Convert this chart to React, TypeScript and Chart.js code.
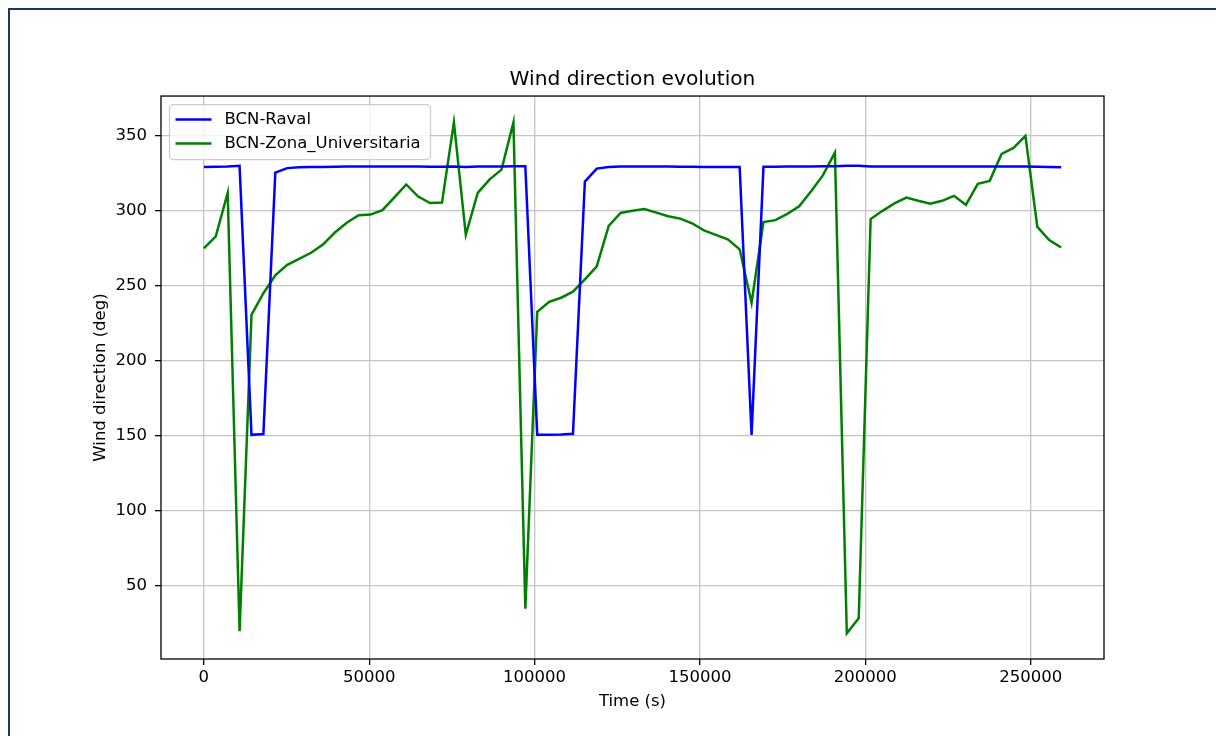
import React, { useEffect, useRef } from "react";
import { Chart, registerables } from "chart.js";

Chart.register(...registerables);

const timeSeconds = [
  0, 3600, 7200, 10800, 14400, 18000, 21600, 25200, 28800, 32400, 36000, 39600,
  43200, 46800, 50400, 54000, 57600, 61200, 64800, 68400, 72000, 75600, 79200, 82800,
  86400, 90000, 93600, 97200, 100800, 104400, 108000, 111600, 115200, 118800, 122400, 126000,
  129600, 133200, 136800, 140400, 144000, 147600, 151200, 154800, 158400, 162000, 165600, 169200,
  172800, 176400, 180000, 183600, 187200, 190800, 194400, 198000, 201600, 205200, 208800, 212400,
  216000, 219600, 223200, 226800, 230400, 234000, 237600, 241200, 244800, 248400, 252000, 255600,
  259200,
];

const ravalDeg = [
  329.2, 329.4, 329.6, 330.0, 150.5, 151.0, 325.5, 328.5, 329.0, 329.2, 329.3, 329.4,
  329.5, 329.5, 329.5, 329.5, 329.5, 329.5, 329.5, 329.4, 329.4, 329.5, 329.3, 329.5,
  329.6, 329.6, 329.7, 329.8, 150.5, 150.6, 150.8, 151.2, 319.5, 328.2, 329.3, 329.5,
  329.5, 329.5, 329.5, 329.5, 329.4, 329.4, 329.3, 329.3, 329.2, 329.2, 150.5, 329.4,
  329.4, 329.5, 329.5, 329.6, 329.7, 329.8, 330.0, 330.0, 329.6, 329.5, 329.5, 329.5,
  329.5, 329.5, 329.5, 329.5, 329.5, 329.5, 329.5, 329.6, 329.6, 329.6, 329.4, 329.2,
  329.0,
];

const zonaUniversitariaDeg = [
  275.0, 283.0, 312.0, 19.5, 230.5, 245.0, 257.0, 264.0, 268.0, 272.0, 277.5, 285.5,
  292.0, 297.0, 297.5, 300.5, 309.0, 317.6, 309.5, 305.2, 305.5, 359.0, 284.0, 312.0,
  321.0, 327.5, 359.0, 34.5, 232.6, 239.3, 242.0, 246.0, 254.3, 263.0, 290.0, 298.6,
  300.0, 301.2, 298.8, 296.4, 294.8, 291.7, 287.0, 284.0, 281.0, 274.3, 238.6, 292.5,
  293.8, 298.0, 303.0, 313.0, 323.8, 338.8, 18.0, 28.0, 294.5, 300.0, 305.0, 308.8,
  306.7, 304.8, 306.7, 310.0, 304.0, 318.0, 320.0, 338.0, 342.0, 350.0, 289.3, 280.5,
  275.5,
];

const seriesNames = ["BCN-Raval", "BCN-Zona_Universitaria"];
const seriesColors = ["#0000ff", "#008000"];
const xTickValues = [0, 50000, 100000, 150000, 200000, 250000];
const yTickValues = [50, 100, 150, 200, 250, 300, 350];
const chartTitle = "Wind direction evolution";
const xAxisTitle = "Time (s)";
const yAxisTitle = "Wind direction (deg)";

const FONT = '"DejaVu Sans", "Liberation Sans", sans-serif';
const TICK_PX = 16.5;

const spinePlugin = {
  id: "spines",
  afterDatasetsDraw(chart: any) {
    const { ctx, chartArea } = chart;
    ctx.save();
    ctx.strokeStyle = "#000";
    ctx.lineWidth = 1.3;
    ctx.strokeRect(
      chartArea.left,
      chartArea.top,
      chartArea.right - chartArea.left,
      chartArea.bottom - chartArea.top
    );
    ctx.restore();
  },
};

const legendPlugin = {
  id: "mplLegend",
  afterDraw(chart: any) {
    const { ctx, chartArea } = chart;
    const x0 = chartArea.left + 8.5;
    const y0 = chartArea.top + 8.5;
    const w = 261;
    const h = 55;
    ctx.save();
    ctx.beginPath();
    if (ctx.roundRect) ctx.roundRect(x0, y0, w, h, 4);
    else ctx.rect(x0, y0, w, h);
    ctx.fillStyle = "rgba(255,255,255,0.8)";
    ctx.fill();
    ctx.strokeStyle = "#cccccc";
    ctx.lineWidth = 1.2;
    ctx.stroke();
    chart.data.datasets.forEach((ds: any, i: number) => {
      const y = y0 + 15 + i * 24;
      ctx.beginPath();
      ctx.moveTo(x0 + 6, y);
      ctx.lineTo(x0 + 42, y);
      ctx.strokeStyle = ds.borderColor;
      ctx.lineWidth = 2.5;
      ctx.stroke();
      ctx.fillStyle = "#000";
      ctx.font = `${TICK_PX}px ${FONT}`;
      ctx.textBaseline = "middle";
      ctx.textAlign = "left";
      ctx.fillText(ds.label, x0 + 55, y);
    });
    ctx.restore();
  },
};

export default function App() {
  const canvasRef = useRef<HTMLCanvasElement | null>(null);

  useEffect(() => {
    if (!canvasRef.current) return;
    const chart = new Chart(canvasRef.current, {
      type: "line",
      data: {
        datasets: [ravalDeg, zonaUniversitariaDeg].map((vals, k) => ({
          label: seriesNames[k],
          data: timeSeconds.map((t, i) => ({ x: t, y: vals[i] })),
          borderColor: seriesColors[k],
          backgroundColor: seriesColors[k],
          borderWidth: 2.5,
          pointRadius: 0,
          tension: 0,
          fill: false,
        })),
      },
      options: {
        animation: false,
        responsive: false,
        devicePixelRatio: 1,
        layout: { padding: { left: 0, top: 68, right: 112, bottom: 0 } },
        plugins: {
          legend: { display: false },
          tooltip: { enabled: false },
          title: {
            display: true,
            text: chartTitle,
            fullSize: false,
            color: "#000",
            font: { family: FONT, size: 20.2, weight: "normal", lineHeight: 1.2 },
            padding: { top: 0, bottom: 3.8 },
          },
        },
        scales: {
          x: {
            type: "linear",
            min: -12960,
            max: 272160,
            afterFit: (s: any) => {
              s.height = 77;
            },
            afterBuildTicks: (s: any) => {
              s.ticks = xTickValues.map((v) => ({ value: v }));
            },
            ticks: {
              color: "#000",
              font: { family: FONT, size: TICK_PX },
              padding: 3,
              maxRotation: 0,
              autoSkip: false,
              includeBounds: false,
              callback: (v: any) => String(v),
            },
            grid: {
              color: "#c4c4c4",
              lineWidth: 1.3,
              tickColor: "#000",
              tickLength: 6,
              tickWidth: 1.3,
              drawTicks: true,
            },
            border: { display: false },
            title: {
              display: true,
              text: xAxisTitle,
              color: "#000",
              font: { family: FONT, size: TICK_PX, lineHeight: 1.2 },
              padding: { top: 0, bottom: 24 },
            },
          },
          y: {
            type: "linear",
            min: 0.9,
            max: 376.6,
            afterFit: (s: any) => {
              s.width = 161;
            },
            afterBuildTicks: (s: any) => {
              s.ticks = yTickValues.map((v) => ({ value: v }));
            },
            ticks: {
              color: "#000",
              font: { family: FONT, size: TICK_PX },
              padding: 8,
              autoSkip: false,
              includeBounds: false,
              callback: (v: any) => String(v),
            },
            grid: {
              color: "#c4c4c4",
              lineWidth: 1.3,
              tickColor: "#000",
              tickLength: 6,
              tickWidth: 1.3,
              drawTicks: true,
            },
            border: { display: false },
            title: {
              display: true,
              text: yAxisTitle,
              color: "#000",
              font: { family: FONT, size: TICK_PX, lineHeight: 1.2 },
              padding: { top: 91, bottom: 0 },
            },
          },
        },
      },
      plugins: [spinePlugin, legendPlugin],
    } as any);
    return () => chart.destroy();
  }, []);

  return (
    <div
      style={{
        position: "fixed",
        left: 0,
        top: 0,
        width: 1216,
        height: 736,
        overflow: "hidden",
        background: "#fff",
      }}
    >
      <div
        style={{
          position: "absolute",
          left: 8,
          top: 8,
          width: 1400,
          height: 900,
          border: "2px solid #1e3366",
          boxSizing: "border-box",
        }}
      />
      <canvas
        ref={canvasRef}
        width={1216}
        height={736}
        style={{ position: "absolute", left: 0, top: 0, width: 1216, height: 736 }}
      />
    </div>
  );
}
